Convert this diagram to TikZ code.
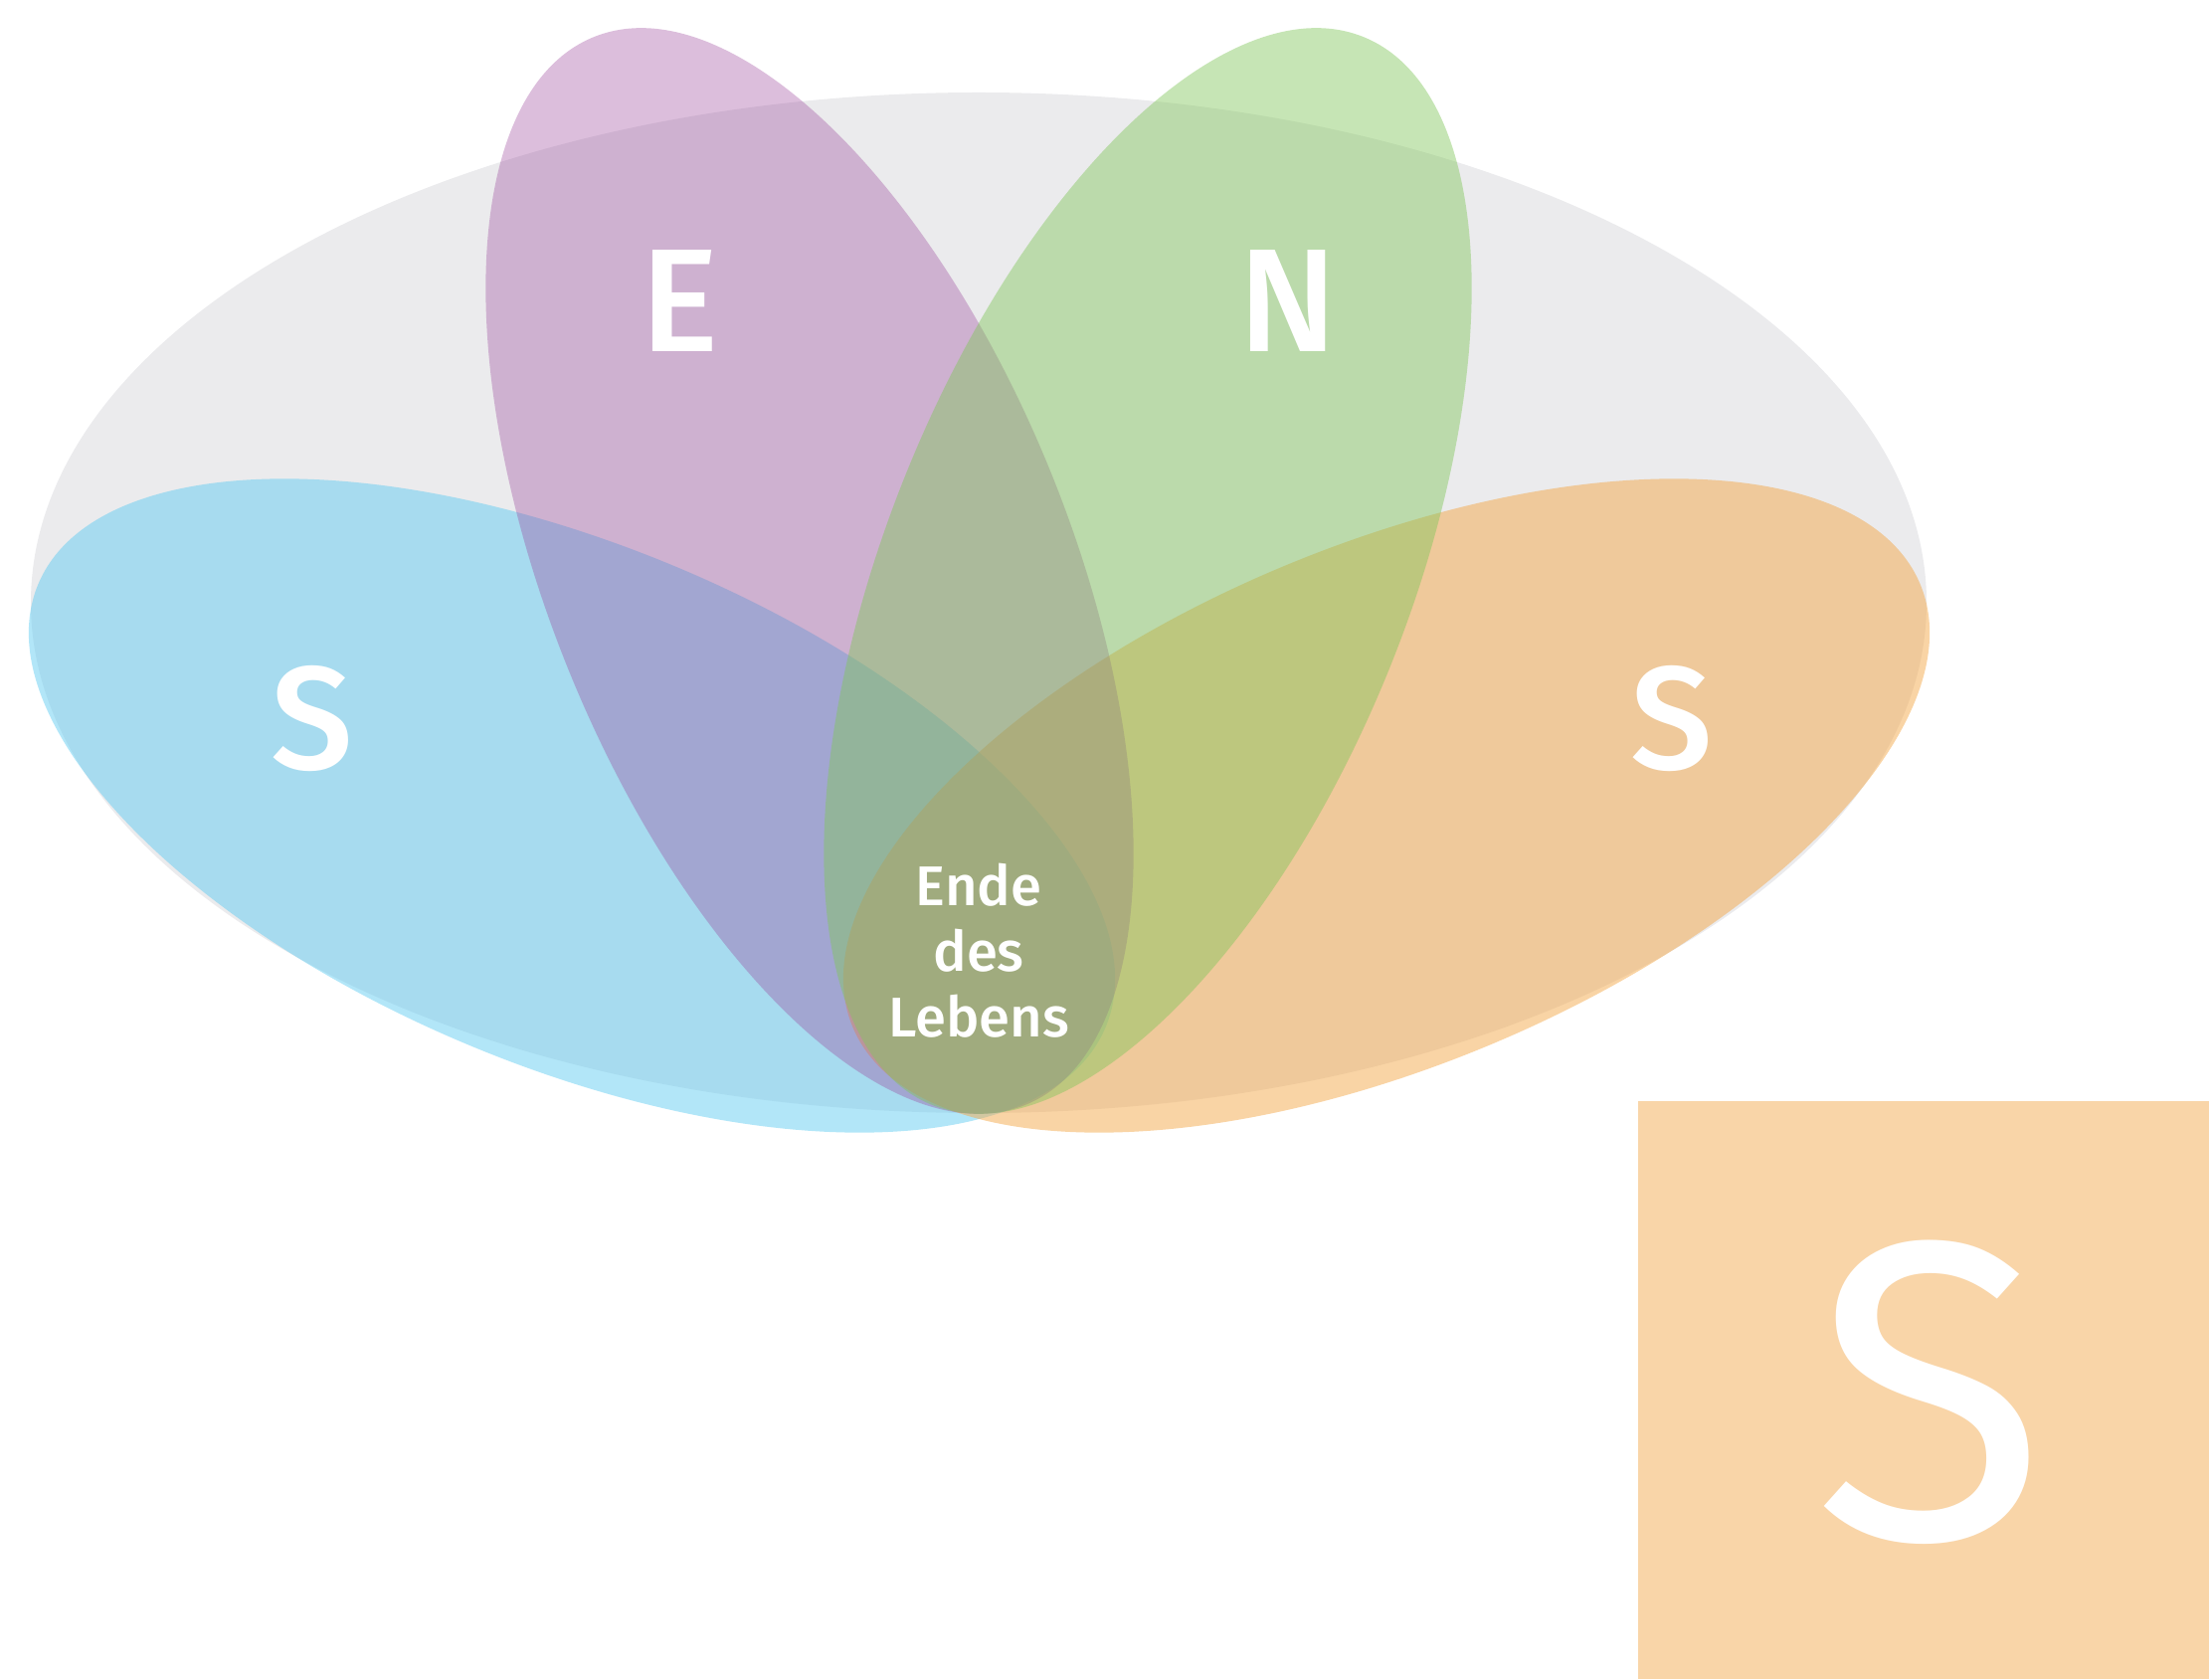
\documentclass[tikz,border=0pt]{standalone}
\usepackage{fontspec}
\setmainfont{Fira Sans}
\newfontfamily\labelfont{Fira Sans Medium}
\usepackage{xcolor}
\usepackage{tikz}
\usetikzlibrary{positioning}

\definecolor{ringgray}{RGB}{235,235,237}
\definecolor{leafblue}{RGB}{101,205,241}
\definecolor{leaforange}{RGB}{243,169,75}
\definecolor{leafpurple}{RGB}{154,69,154}
\definecolor{leafgreen}{RGB}{129,198,91}
\definecolor{boxorange}{RGB}{249,213,168}

\begin{document}
\begin{tikzpicture}[big/.style={text=white, font=\labelfont\fontsize{42}{50}\selectfont},
    small/.style={text=white, align=center, font=\labelfont\fontsize{16}{18.8}\selectfont}]
    \useasboundingbox (0,0) rectangle (22.21,16.88);

        % the big ring and the four leaves
        \fill[ringgray] (9.84,10.82) ellipse [x radius=9.53, y radius=5.13];
        \fill[leafblue, fill opacity=0.5] (5.75,8.78) circle [x radius=5.81, y radius=2.62, rotate=-22.5];
        \fill[leaforange, fill opacity=0.5] (13.94,8.78) circle [x radius=5.81, y radius=2.62, rotate=22.5];
        \fill[leafpurple, fill opacity=0.35] (8.14,11.14) circle [x radius=2.62, y radius=5.79, rotate=22];
        \fill[leafgreen, fill opacity=0.45] (11.54,11.14) circle [x radius=2.62, y radius=5.79, rotate=-22];

        \node[big] (E) at (6.84,13.85) {E};
        \node[big] (N) at (12.95,13.85) {N};
        \node[big] (Sl) at (3.14,9.66) {S};
        \node[big] (Sr) at (16.81,9.66) {S};
        \node[small] (ende) at (9.84,7.32) {Ende\\des\\Lebens};

        % the box
        \fill[boxorange] (16.47,0) rectangle (22.21,5.81);
        \node[text=white, font=\fontsize{122}{140}\selectfont] (Sbox) at (19.40,2.88) {S};
    \end{tikzpicture}
\end{document}
